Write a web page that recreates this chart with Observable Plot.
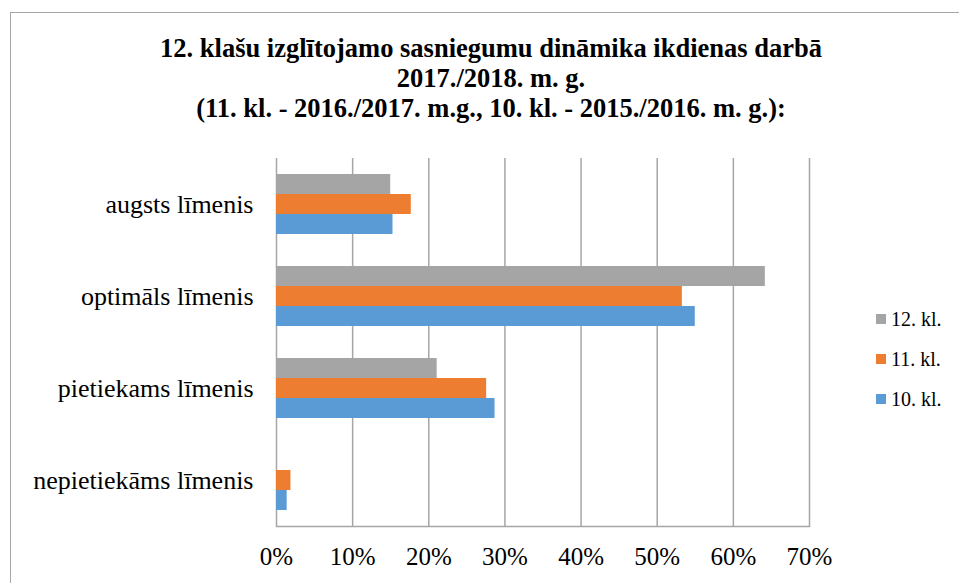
<!DOCTYPE html>
<html>
<head>
<meta charset="utf-8">
<script src="https://cdn.jsdelivr.net/npm/d3@7"></script>
<script src="https://cdn.jsdelivr.net/npm/@observablehq/plot@0.6"></script>
<style>
  html, body { margin: 0; padding: 0; background: #fff; }
  #page { position: relative; width: 959px; height: 583px; overflow: hidden; font-family: 'Liberation Serif'; }
  #frame { position: absolute; left: 10px; top: 12px; width: 1000px; height: 700px; border: 1.5px solid #a6a6a6; box-sizing: border-box; }
  #title { position: absolute; left: 0; top: 33px; width: 982px; text-align: center; font-family: 'Liberation Serif'; font-weight: bold; font-size: 26.5px; line-height: 30px; color: #000; }
  #chart { position: absolute; left: 0; top: 140px; }
  #legend { position: absolute; left: 876px; top: 0; font-family: 'Liberation Serif'; }
  .item { position: absolute; left: 0; white-space: nowrap; font-size: 20px; line-height: 20px; height: 20px; }
  .sw { position: absolute; left: 0; top: 5px; width: 10px; height: 10px; }
  .lab { position: absolute; left: 15px; top: 0; }
</style>
</head>
<body>
<div id="page">
  <div id="frame"></div>
  <div id="title">12. klašu izglītojamo sasniegumu dināmika ikdienas darbā<br>2017./2018. m. g.<br>(11. kl. - 2016./2017. m.g., 10. kl. - 2015./2016. m. g.):</div>
  <div id="chart"></div>
  <div id="legend"></div>
</div>
<script>
const categories = ["augsts līmenis", "optimāls līmenis", "pietiekams līmenis", "nepietiekāms līmenis"];
const series = ["12. kl.", "11. kl.", "10. kl."];
const values12 = [15.0, 64.2, 21.1, 0];
const values11 = [17.7, 53.3, 27.6, 1.9];
const values10 = [15.3, 55.0, 28.7, 1.4];
const colors = ["#A5A5A5", "#ED7D31", "#5B9BD5"];
const xTicks = [0, 10, 20, 30, 40, 50, 60, 70];

const seriesValues = [values12, values11, values10];
const data = [];
categories.forEach((c, i) => {
  series.forEach((s, j) => {
    data.push({category: c, series: s, value: seriesValues[j][i]});
  });
});

const chart = Plot.plot({
  width: 959,
  height: 443,
  marginLeft: 276,
  marginRight: 150,
  marginTop: 18,
  marginBottom: 57,
  style: {fontFamily: "Liberation Serif", fontSize: "25px", color: "#000", background: "transparent", overflow: "visible"},
  x: {domain: [0, 70], ticks: xTicks, tickFormat: d => d + "%", tickSize: 0, tickPadding: 21, label: null},
  y: {domain: series, axis: null, paddingInner: 0, paddingOuter: 0.726},
  fy: {domain: categories, padding: 0, axis: "left", tickSize: 0, tickPadding: 23, label: null},
  color: {domain: series, range: colors},
  marks: [
    Plot.ruleX(xTicks, {stroke: "#a6a6a6", strokeWidth: 1.5}),
    Plot.barX(data, {x: "value", y: "series", fy: "category", fill: "series"}),
    Plot.frame({anchor: "bottom", stroke: "#a6a6a6", strokeWidth: 1.5, facet: "super"})
  ]
});
document.getElementById("chart").appendChild(chart);
d3.select(chart).selectAll("text").style("font-family", "Liberation Serif");
d3.select(chart).selectAll("[aria-label='fy-axis tick label'] text").style("font-size", "26px");

const legend = document.getElementById("legend");
const rowTops = [309, 349, 389];
series.forEach((s, j) => {
  const item = document.createElement("div");
  item.className = "item";
  item.style.top = rowTops[j] + "px";
  item.innerHTML = `<span class="sw" style="background:${colors[j]}"></span><span class="lab">${s}</span>`;
  legend.appendChild(item);
});
</script>
</body>
</html>
